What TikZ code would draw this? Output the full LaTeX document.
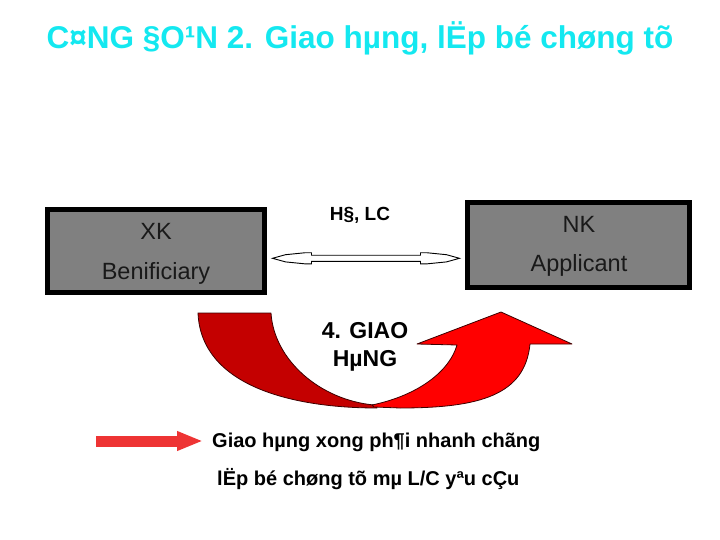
\documentclass[tikz,border=0pt]{standalone}
\usepackage{fontspec}
\setmainfont{Liberation Sans}
\usetikzlibrary{arrows.meta,calc}
\definecolor{titlecyan}{RGB}{20,232,240}
\definecolor{boxgray}{RGB}{128,128,128}
\definecolor{darkred}{RGB}{196,0,0}
\definecolor{brightred}{RGB}{255,0,0}
\definecolor{arrowred}{RGB}{238,52,52}
\definecolor{edgered}{RGB}{60,0,0}
\begin{document}
\begin{tikzpicture}[x=1pt,y=-1pt,
  partybox/.style={draw=black,line width=5pt,fill=boxgray,inner sep=0pt},
  boxtext/.style={font=\fontsize{23.5}{27}\selectfont,text=black!90,inner sep=0pt},
  boldlabel/.style={font=\bfseries\fontsize{#1}{#1}\selectfont,inner sep=0pt},
  bandarrow/.style={draw=edgered,line width=0.8pt,line join=round}]
\useasboundingbox (0,0) rectangle (720,540);
% title
\node[boldlabel=31.5,text=titlecyan] (title) at (360,38) {C¤NG §O¹N 2. Giao hµng, lËp bé chøng tõ};
% boxes
\node[partybox,minimum width=217pt,minimum height=83pt] (xk) at (156,251) {};
\node[partybox,minimum width=222pt,minimum height=85pt] (nk) at (578.5,245) {};
\node[boxtext] (xkA) at (156,231) {XK};
\node[boxtext] (xkB) at (156,273) {Benificiary};
\node[boxtext] (nkA) at (579,224) {NK};
\node[boxtext] (nkB) at (579,265) {Applicant};
% double arrow label
\node[boldlabel=19] (hd) at (360,215) {H§, LC};
% double arrow between the boxes
\coordinate (dal) at ($(xk.east)+(5.5,7.3)$);
\coordinate (dar) at ($(nk.west)+(-5.5,13.3)$);
\draw[black,line width=0.9pt,fill=white,line join=miter]
  (dal) -- ($(dal)+(13,-3.6)$) -- ($(dal)+(33,-5.6)$) -- ($(dal)+(39,-5.6)$)
  -- ($(dal)+(39,-3.1)$) -- ($(dar)+(-39,-3.1)$) -- ($(dar)+(-39,-5.6)$)
  -- ($(dar)+(-33,-5.6)$) -- ($(dar)+(-13,-3.6)$) -- (dar)
  -- ($(dar)+(-13,3.6)$) -- ($(dar)+(-33,5.6)$) -- ($(dar)+(-39,5.6)$)
  -- ($(dar)+(-39,3.1)$) -- ($(dal)+(39,3.1)$) -- ($(dal)+(39,5.6)$)
  -- ($(dal)+(33,5.6)$) -- ($(dal)+(13,3.6)$) -- cycle;
% curved arrows
\fill[darkred,bandarrow] (198,313) -- (271,313)
  .. controls (274,360) and (320,400) .. (374,405)
  -- (377,408) .. controls (290,408) and (201,385) .. (198,313) -- cycle;
\fill[brightred,bandarrow] (372,405) .. controls (420,395) and (450,370) .. (457,345)
  -- (417,344) -- (501,312) -- (572,344) -- (530,344)
  .. controls (525,395) and (480,408) .. (400,408) -- (374,407) -- cycle;
\node[boldlabel=23,align=center] (giao) at (365,347) {4. GIAO\\[5pt]HµNG};
% legend
\node[boldlabel=20,anchor=west] (t1) at (212,442) {Giao hµng xong ph¶i nhanh chãng};
\node[boldlabel=20,anchor=west] (t2) at (217,479) {lËp bé chøng tõ mµ L/C yªu cÇu};
\coordinate (ra) at (96,441);
\coordinate (rb) at ($(t1.west)+(-9,-1)$);
\draw[arrowred,line width=11pt,-{Triangle[length=26pt,width=18pt]}] (ra) -- (rb);
\end{tikzpicture}
\end{document}
